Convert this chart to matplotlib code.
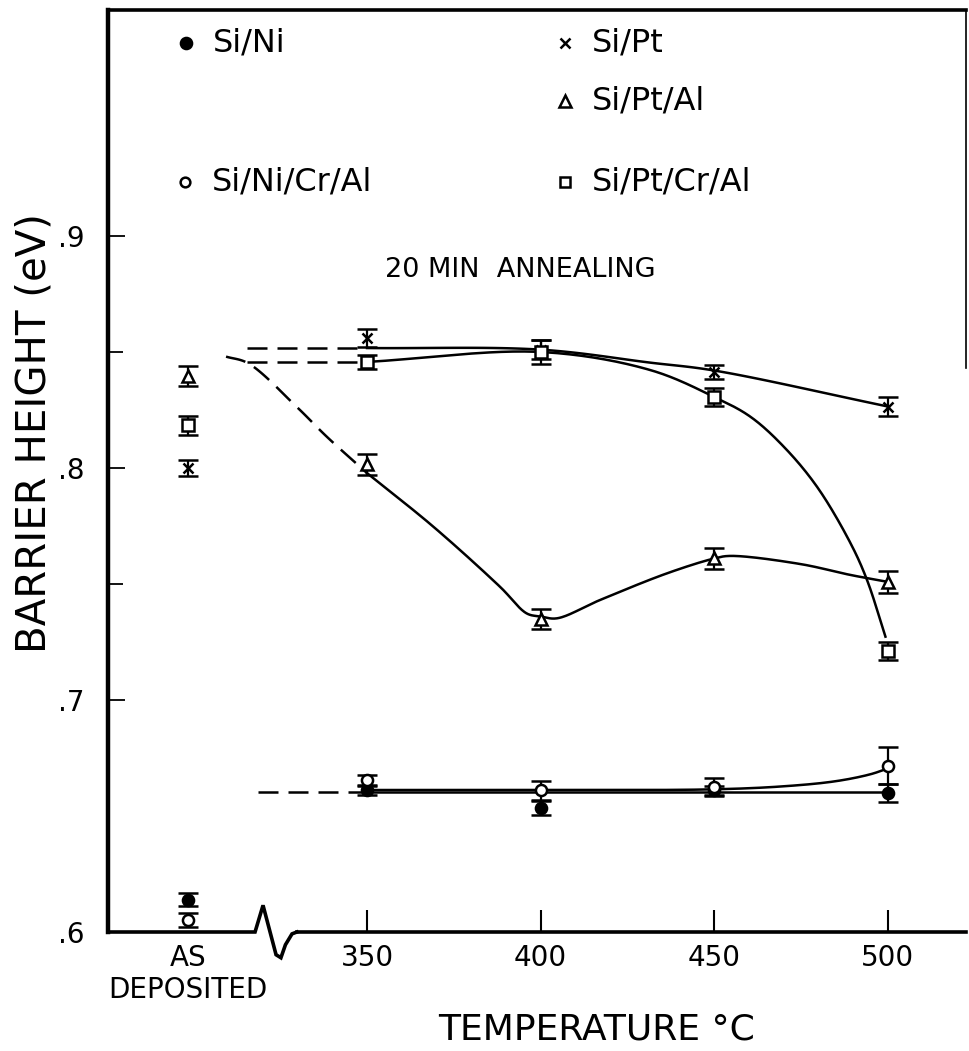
import numpy as np
import matplotlib
matplotlib.use("Agg")
import matplotlib.pyplot as plt

plt.rcParams['font.family'] = ['DejaVu Sans']

# annealing temperatures (C); "as deposited" column sits left of the axis break
temps = [350, 400, 450, 500]
as_dep_x = 298.5

# barrier heights (eV): first value = as deposited, then 350..500
si_ni = [0.614, 0.661, 0.6535, 0.661, 0.660]
si_ni_err = [0.003, 0.002, 0.003, 0.002, 0.004]
si_nicral = [0.605, 0.6655, 0.661, 0.6625, 0.6716]
si_nicral_err = [0.003, 0.002, 0.004, 0.004, 0.008]
si_pt = [0.800, 0.856, 0.851, 0.8415, 0.8265]
si_pt_err = [0.0035, 0.004, 0.004, 0.003, 0.0043]
si_ptal = [0.8395, 0.8016, 0.735, 0.761, 0.7509]
si_ptal_err = [0.0043, 0.0045, 0.0043, 0.0045, 0.0047]
si_ptcral = [0.8184, 0.8457, 0.850, 0.8306, 0.7211]
si_ptcral_err = [0.004, 0.003, 0.005, 0.004, 0.004]

# hand drawn guide curves (x in C, y in eV)
pt_dash_x = [315.4, 350]
pt_dash_y = [0.8517, 0.8517]
pt_line_x = [350, 400, 431.6, 450, 500]
pt_line_y = [0.8517, 0.851, 0.8454, 0.842, 0.8265]

ptcral_dash_x = [315.4, 350]
ptcral_dash_y = [0.8457, 0.8457]
ptcral_line_x = [350, 400, 431.6, 450, 460.4, 470, 479.6, 489.2, 494, 499.3]
ptcral_line_y = [0.8457, 0.850, 0.8422, 0.8306, 0.8221, 0.8092, 0.7919, 0.7677, 0.7517, 0.7273]

ptal_dash_x = [309.4, 315.8, 329.7, 338.4, 350]
ptal_dash_y = [0.848, 0.8451, 0.8264, 0.8135, 0.7978]
ptal_line_x = [350, 369.1, 388.3, 396.0, 400, 404.7, 417.1, 436.4, 450, 454.6, 474.8, 489.2, 500]
ptal_line_y = [0.7978, 0.7747, 0.7488, 0.7373, 0.736, 0.7352, 0.7431, 0.7546, 0.761, 0.7621, 0.7586, 0.7539, 0.7509]

ni_dash_x = [318.6, 350]
ni_dash_y = [0.6605, 0.6605]
ni_line_x = [350, 500]
ni_line_y = [0.6605, 0.6605]

nicral_line_x = [350, 400, 450, 470, 485, 495, 500]
nicral_line_y = [0.6612, 0.6612, 0.6615, 0.6628, 0.665, 0.668, 0.6705]

SX, SY = 3.473, 2320.0  # px per unit, used only to smooth in screen-like space


def smooth(xs, ys, n=30):
    P = np.column_stack([np.asarray(xs) * SX, np.asarray(ys) * SY])
    if len(P) < 3:
        return np.asarray(xs), np.asarray(ys)
    P = np.vstack([2 * P[0] - P[1], P, 2 * P[-1] - P[-2]])
    out = []
    for i in range(1, len(P) - 2):
        p0, p1, p2, p3 = P[i - 1:i + 3]
        t0 = 0.0
        t1 = t0 + np.linalg.norm(p1 - p0) ** 0.5
        t2 = t1 + np.linalg.norm(p2 - p1) ** 0.5
        t3 = t2 + np.linalg.norm(p3 - p2) ** 0.5
        t = np.linspace(t1, t2, n)[:, None]
        A1 = (t1 - t) / (t1 - t0) * p0 + (t - t0) / (t1 - t0) * p1
        A2 = (t2 - t) / (t2 - t1) * p1 + (t - t1) / (t2 - t1) * p2
        A3 = (t3 - t) / (t3 - t2) * p2 + (t - t2) / (t3 - t2) * p3
        B1 = (t2 - t) / (t2 - t0) * A1 + (t - t0) / (t2 - t0) * A2
        B2 = (t3 - t) / (t3 - t1) * A2 + (t - t1) / (t3 - t1) * A3
        C = (t2 - t) / (t2 - t1) * B1 + (t - t1) / (t2 - t1) * B2
        out.append(C if not out else C[1:])
    C = np.vstack(out)
    return C[:, 0] / SX, C[:, 1] / SY


fig = plt.figure(figsize=(9.69, 10.51), dpi=100)
ax = fig.add_axes([108 / 969, 1 - 932 / 1051, 858 / 969, 922 / 1051])
ax.set_xlim(275.4, 522.5)
ax.set_ylim(0.6, 0.9974)

lw = 1.8
for xs, ys in [(pt_dash_x, pt_dash_y), (ptcral_dash_x, ptcral_dash_y),
               (ptal_dash_x, ptal_dash_y), (ni_dash_x, ni_dash_y)]:
    sx, sy = smooth(xs, ys)
    ax.plot(sx, sy, color='black', lw=lw, dashes=(8, 4), zorder=2)
for xs, ys in [(pt_line_x, pt_line_y), (ptcral_line_x, ptcral_line_y),
               (ptal_line_x, ptal_line_y), (ni_line_x, ni_line_y),
               (nicral_line_x, nicral_line_y)]:
    sx, sy = smooth(xs, ys)
    ax.plot(sx, sy, color='black', lw=lw, zorder=2)

xpos = [as_dep_x] + temps
series = [
    (si_pt, si_pt_err, 'x', 7, 'black'),
    (si_ptal, si_ptal_err, '^', 9, 'white'),
    (si_ptcral, si_ptcral_err, 's', 8, 'white'),
    (si_ni, si_ni_err, 'o', 8, 'black'),
    (si_nicral, si_nicral_err, 'o', 8, 'white'),
]
for vals, errs, mk, ms, face in series:
    ax.errorbar(xpos, vals, yerr=errs, fmt=mk, ms=ms, mfc=face, mec='black',
                mew=1.8, ecolor='black', elinewidth=1.6, capsize=7, capthick=2.2,
                zorder=3)

# legend drawn as in the original figure
legend_items = [
    ('o', 'black', 8, 0.0909, 0.9642, 'Si/Ni'),
    ('x', 'black', 7, 0.5326, 0.9642, 'Si/Pt'),
    ('^', 'white', 8, 0.5326, 0.9013, 'Si/Pt/Al'),
    ('o', 'white', 7, 0.0897, 0.8134, 'Si/Ni/Cr/Al'),
    ('s', 'white', 7, 0.5326, 0.8134, 'Si/Pt/Cr/Al'),
]
for mk, face, ms, lx, ly, name in legend_items:
    ax.plot([lx], [ly], marker=mk, ms=ms, mfc=face, mec='black', mew=1.8,
            ls='none', transform=ax.transAxes, clip_on=False)
    ax.text(lx + 0.031, ly, name, transform=ax.transAxes, fontsize=23,
            ha='left', va='center')

ax.text(0.4802, 0.718, '20 MIN  ANNEALING', transform=ax.transAxes,
        fontsize=19.5, ha='center', va='center')

# axes frame
ax.spines['bottom'].set_visible(False)
ax.spines['left'].set_linewidth(3.2)
ax.spines['top'].set_linewidth(2.6)
ax.spines['right'].set_linewidth(1.2)
ax.spines['right'].set_bounds(0.843, 0.9974)

# broken x axis line
bx = [275.4, 317.75, 320.05, 323.8, 325.2, 326.5, 328.4, 329.8]
by = [0.6, 0.6, 0.6115, 0.5902, 0.5889, 0.5945, 0.5992, 0.6]
ax.plot(bx, by, color='black', lw=2.6, clip_on=False, solid_joinstyle='miter', zorder=4)
ax.plot([329.8, 522.5], [0.6, 0.6], color='black', lw=2.6, clip_on=False, zorder=4)

ax.set_xticks(temps)
ax.set_xticklabels([str(t) for t in temps])
ax.tick_params(axis='x', direction='in', length=16, width=1.5, labelsize=20, pad=9)
ax.text(as_dep_x, -0.0125, 'AS\nDEPOSITED', transform=ax.get_xaxis_transform(),
        fontsize=20, ha='center', va='top', linespacing=1.2)

ax.set_yticks([0.6, 0.7, 0.8, 0.9])
ax.set_yticklabels(['.6', '.7', '.8', '.9'])
ax.set_yticks([0.75, 0.85], minor=True)
ax.tick_params(axis='y', which='major', direction='in', length=12, width=1.3,
               labelsize=20, pad=17)
ax.tick_params(axis='y', which='minor', direction='in', length=11, width=1.3)
ax.tick_params(right=False, top=False)

fig.text(35 / 969, 1 - 433 / 1051, 'BARRIER HEIGHT (eV)', rotation=90,
         fontsize=29, ha='center', va='center')
fig.text(597 / 969, 1 - 1030 / 1051, 'TEMPERATURE °C', fontsize=26,
         ha='center', va='center')

fig.savefig('out.png', dpi=100)
